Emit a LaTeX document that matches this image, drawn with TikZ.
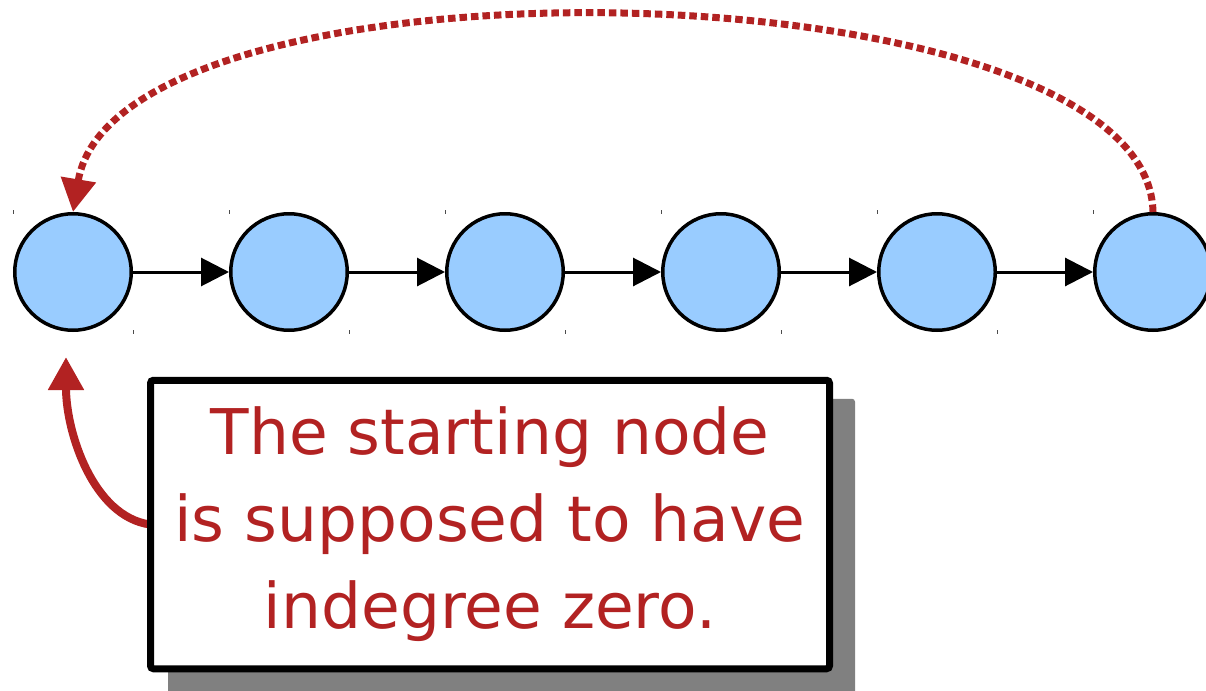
\documentclass[tikz,border=0pt]{standalone}
\usepackage{fontspec}
\newfontfamily\handfont{DejaVu Sans}
\usetikzlibrary{arrows.meta,backgrounds,calc}
\definecolor{fire}{HTML}{B22222}
\definecolor{nodeblue}{HTML}{99CCFF}
\begin{document}
\begin{tikzpicture}[x=1pt,y=-1pt,
  vertex/.style={circle,draw=black,fill=nodeblue,line width=3.5pt,minimum size=116.5pt,inner sep=0pt},
  link/.style={line width=3pt,-{Triangle[length=28pt,width=28pt]}},
  loopback/.style={draw=fire,line width=7pt,dash pattern=on 7.5pt off 4pt,-{Triangle[length=33pt,width=34pt]}},
  note/.style={draw=black,line width=7pt,fill=white,rounded corners=3pt,
    minimum width=679pt,minimum height=288.5pt,inner sep=0pt,align=center,text=fire,
    font=\handfont\fontsize{63}{87}\selectfont},
  noteshadow/.style={fill=gray,rounded corners=3pt},
  pointer/.style={draw=fire,line width=8pt,-{Triangle[length=33pt,width=34pt]}},
  tickmark/.style={line width=0.8pt,black!70}]
\useasboundingbox (0,0) rectangle (1206,690);
\foreach \i/\x in {1/73,2/289,3/505,4/721,5/937,6/1153}{
  \node[vertex] (n\i) at (\x,272) {};
  \draw[tickmark] (\x-60,210) -- (\x-60,214);
  \draw[tickmark] (\x+60,330) -- (\x+60,334);
}
\foreach \a/\b in {1/2,2/3,3/4,4/5,5/6}{
  \draw[link] (n\a) -- (n\b);
}
\draw[loopback] (n6.north) .. controls +(-5,-250) and +(45,-270) .. (n1.north);
\coordinate (tip) at ($(n1.south)+(-7,25)$);
\draw[pointer] (150,524.5) .. controls +(-57,-8) and +(0,75) .. (tip);
\node[note] (box) at (490,524.5) {The starting node\\is supposed to have\\indegree zero.};
\begin{scope}[on background layer]
  \fill[noteshadow] ($(box.north west)+(21,22)$) rectangle ($(box.south east)+(22,22)$);
\end{scope}
\end{tikzpicture}
\end{document}
